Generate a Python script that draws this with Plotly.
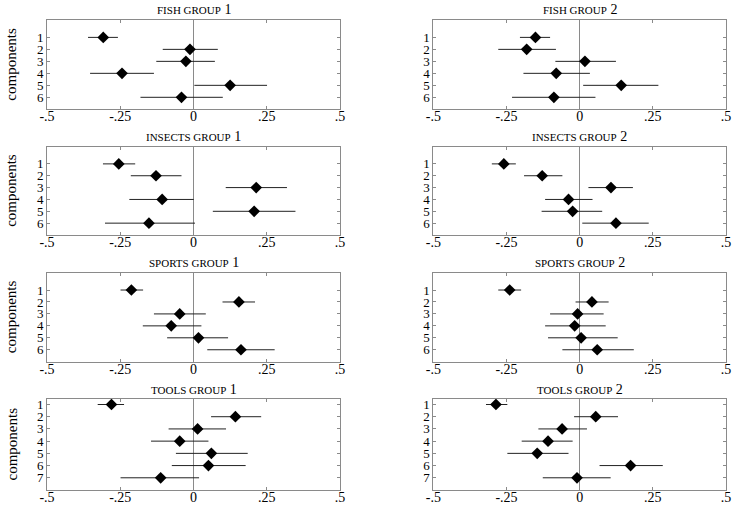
import plotly.graph_objects as go

# point estimates with lower / upper interval ends
fish1_est = [-0.308, -0.012, -0.026, -0.244, 0.125, -0.041]
fish1_lo = [-0.360, -0.105, -0.127, -0.353, 0.003, -0.181]
fish1_hi = [-0.258, 0.083, 0.073, -0.135, 0.251, 0.100]

fish2_est = [-0.151, -0.181, 0.018, -0.080, 0.142, -0.088]
fish2_lo = [-0.204, -0.278, -0.083, -0.192, 0.012, -0.231]
fish2_hi = [-0.101, -0.081, 0.124, 0.035, 0.269, 0.054]

insects1_est = [-0.255, -0.128, 0.214, -0.107, 0.207, -0.152]
insects1_lo = [-0.309, -0.214, 0.110, -0.219, 0.066, -0.302]
insects1_hi = [-0.199, -0.041, 0.319, 0.001, 0.348, 0.005]

insects2_est = [-0.259, -0.128, 0.107, -0.038, -0.024, 0.124]
insects2_lo = [-0.300, -0.190, 0.030, -0.118, -0.130, 0.009]
insects2_hi = [-0.218, -0.059, 0.182, 0.044, 0.077, 0.236]

sports1_est = [-0.212, 0.155, -0.047, -0.076, 0.017, 0.162]
sports1_lo = [-0.249, 0.099, -0.135, -0.173, -0.090, 0.047]
sports1_hi = [-0.172, 0.210, 0.042, 0.027, 0.118, 0.277]

sports2_est = [-0.239, 0.042, -0.007, -0.017, 0.005, 0.060]
sports2_lo = [-0.278, -0.014, -0.101, -0.118, -0.108, -0.059]
sports2_hi = [-0.200, 0.099, 0.082, 0.089, 0.130, 0.185]

tools1_est = [-0.280, 0.143, 0.014, -0.047, 0.061, 0.051, -0.112]
tools1_lo = [-0.327, 0.060, -0.085, -0.145, -0.060, -0.074, -0.249]
tools1_hi = [-0.237, 0.231, 0.111, 0.051, 0.185, 0.178, 0.019]

tools2_est = [-0.286, 0.055, -0.060, -0.108, -0.145, 0.174, -0.009]
tools2_lo = [-0.320, -0.019, -0.141, -0.198, -0.247, 0.068, -0.126]
tools2_hi = [-0.247, 0.131, 0.025, -0.024, -0.038, 0.284, 0.106]

x_ticks = [-0.5, -0.25, 0, 0.25, 0.5]
x_tick_text = ["-.5", "-.25", "0", ".25", ".5"]

panels = [
    ("FISH GROUP", "1", fish1_est, fish1_lo, fish1_hi),
    ("FISH GROUP", "2", fish2_est, fish2_lo, fish2_hi),
    ("INSECTS GROUP", "1", insects1_est, insects1_lo, insects1_hi),
    ("INSECTS GROUP", "2", insects2_est, insects2_lo, insects2_hi),
    ("SPORTS GROUP", "1", sports1_est, sports1_lo, sports1_hi),
    ("SPORTS GROUP", "2", sports2_est, sports2_lo, sports2_hi),
    ("TOOLS GROUP", "1", tools1_est, tools1_lo, tools1_hi),
    ("TOOLS GROUP", "2", tools2_est, tools2_lo, tools2_hi),
]

W, H = 735, 506
col_x = [(47, 340), (433.3, 726)]
row_y = [(20, 109.3), (146.7, 235), (272.7, 361.7), (399, 490)]
title_y = [10, 136.7, 262.7, 389]

FRAME = "#8a8a8a"
FONT = "Liberation Serif"

fig = go.Figure()
annotations = []

for i, (name, num, est, lo, hi) in enumerate(panels):
    r, c = divmod(i, 2)
    n = len(est)
    comps = list(range(1, n + 1))
    ax = "" if i == 0 else str(i + 1)
    x0, x1 = col_x[c]
    yt, yb = row_y[r]

    fig.add_trace(go.Scatter(
        x=est, y=comps,
        mode="markers",
        marker=dict(symbol="diamond", size=9, color="black"),
        error_x=dict(type="data", symmetric=False,
                     array=[h - e for h, e in zip(hi, est)],
                     arrayminus=[e - l for e, l in zip(est, lo)],
                     width=0, thickness=1, color="#222"),
        xaxis="x" + ax, yaxis="y" + ax,
        showlegend=False,
    ))

    yr = [n + 1, -0.45] if n == 6 else [n + 1, 0.55]
    fig.update_layout({
        "xaxis" + ax: dict(
            domain=[x0 / W, x1 / W], anchor="y" + ax, automargin=False,
            range=[-0.5, 0.5], tickvals=x_ticks, ticktext=x_tick_text,
            ticks="inside", ticklen=3, tickcolor=FRAME,
            ticklabelstandoff=-6,
            showline=True, linecolor=FRAME, linewidth=1, mirror="ticks",
            showgrid=False, zeroline=True, zerolinecolor=FRAME, zerolinewidth=1,
            tickfont=dict(family=FONT, size=14, color="black"),
        ),
        "yaxis" + ax: dict(
            domain=[1 - yb / H, 1 - yt / H], anchor="x" + ax, automargin=False,
            range=yr, tickvals=comps,
            ticks="inside", ticklen=3, tickcolor=FRAME,
            showline=True, linecolor=FRAME, linewidth=1, mirror="ticks",
            showgrid=False, zeroline=False,
            tickfont=dict(family=FONT, size=13, color="black"),
        ),
    })

    annotations.append(dict(
        text=f'<span style="font-size:11px">{name}</span> {num}',
        x=(x0 + x1) / 2 / W, y=1 - title_y[r] / H,
        xref="paper", yref="paper", showarrow=False,
        xanchor="center", yanchor="middle",
        font=dict(family=FONT, size=14, color="black"),
    ))
    if c == 0:
        annotations.append(dict(
            text="components", textangle=-90,
            x=11 / W, y=1 - (yt + yb) / 2 / H,
            xref="paper", yref="paper", showarrow=False,
            xanchor="center", yanchor="middle",
            font=dict(family=FONT, size=15, color="black"),
        ))

fig.update_layout(
    width=W, height=H,
    margin=dict(l=0, r=0, t=0, b=0, pad=0),
    plot_bgcolor="white",
    paper_bgcolor="white",
    annotations=annotations,
)

# drop the page's default body margin so the figure sits at the window's corner
fig.write_html("out.html", config={"displayModeBar": False},
               post_script="document.body.style.margin='0';")
